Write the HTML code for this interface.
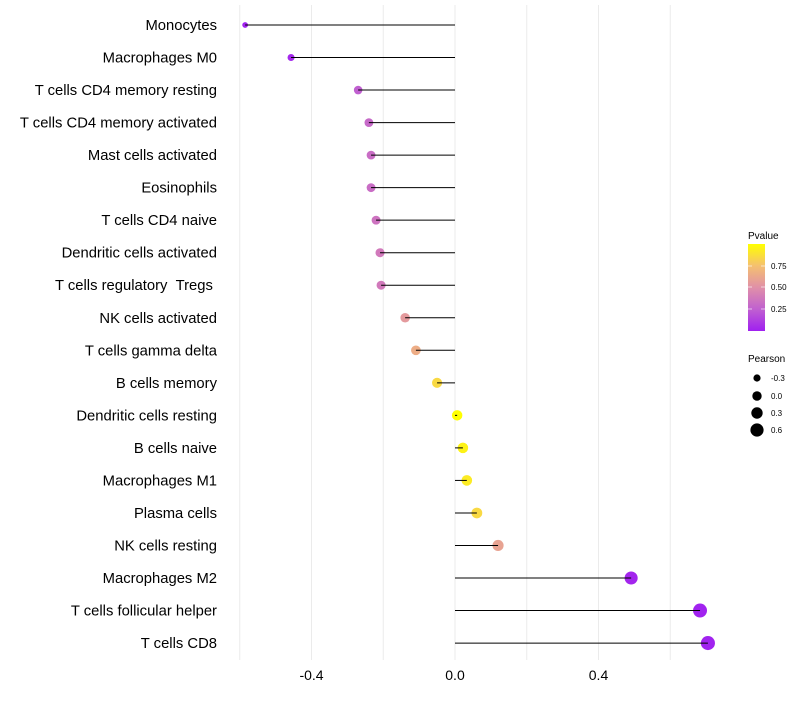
<!DOCTYPE html>
<html><head><meta charset="utf-8"><style>
body{margin:0;background:#fff;font-family:"Liberation Sans",sans-serif}
</style></head><body>
<svg id="chart" width="800" height="700" xmlns="http://www.w3.org/2000/svg" font-family="Liberation Sans, sans-serif">
<g id="grid"></g>
<g id="dots"></g>
<g id="segs"></g>
<g id="ylab"></g>
<g id="xlab"></g>
<defs><linearGradient id="pg" x1="0" y1="1" x2="0" y2="0">
<stop offset="0" stop-color="#a020f0"/><stop offset="0.25" stop-color="#c060d0"/><stop offset="0.5" stop-color="#e090a8"/><stop offset="0.75" stop-color="#f5c070"/><stop offset="1" stop-color="#ffff00"/></linearGradient></defs>
<g>
<text x="748" y="239" font-size="10">Pvalue</text>
<rect x="748" y="244" width="17" height="87" fill="url(#pg)"/>
<line x1="748" y1="266" x2="752" y2="266" stroke="#fff" stroke-opacity=".6"/><line x1="761" y1="266" x2="765" y2="266" stroke="#fff" stroke-opacity=".6"/>
<line x1="748" y1="287" x2="752" y2="287" stroke="#fff" stroke-opacity=".6"/><line x1="761" y1="287" x2="765" y2="287" stroke="#fff" stroke-opacity=".6"/>
<line x1="748" y1="309" x2="752" y2="309" stroke="#fff" stroke-opacity=".6"/><line x1="761" y1="309" x2="765" y2="309" stroke="#fff" stroke-opacity=".6"/>
<text x="771" y="269" font-size="8">0.75</text><text x="771" y="290" font-size="8">0.50</text><text x="771" y="312" font-size="8">0.25</text>
</g>
<g>
<text x="748" y="362" font-size="10">Pearson</text>
<circle cx="757" cy="378" r="3.6"/><text x="771" y="381" font-size="8">-0.3</text>
<circle cx="757" cy="396" r="4.7"/><text x="771" y="399" font-size="8">0.0</text>
<circle cx="757" cy="413" r="5.7"/><text x="771" y="416" font-size="8">0.3</text>
<circle cx="757" cy="430" r="6.6"/><text x="771" y="433" font-size="8">0.6</text>
</g>
</svg>
<script>
const categories=["Monocytes","Macrophages M0","T cells CD4 memory resting","T cells CD4 memory activated","Mast cells activated","Eosinophils","T cells CD4 naive","Dendritic cells activated","T cells regulatory\u00a0\u00a0Tregs\u00a0","NK cells activated","T cells gamma delta","B cells memory","Dendritic cells resting","B cells naive","Macrophages M1","Plasma cells","NK cells resting","Macrophages M2","T cells follicular helper","T cells CD8"];
const pearson=[-0.585,-0.457,-0.270,-0.240,-0.234,-0.234,-0.220,-0.209,-0.206,-0.139,-0.109,-0.050,0.006,0.022,0.033,0.061,0.120,0.491,0.683,0.705];
const pvalues=[0.01,0.03,0.25,0.3,0.32,0.32,0.35,0.38,0.38,0.55,0.65,0.85,1.0,0.95,0.92,0.85,0.6,0.02,0.01,0.01];
const xTicks=[-0.4,0.0,0.4];
const xGrid=[-0.6,-0.4,-0.2,0,0.2,0.4,0.6];
const NS="http://www.w3.org/2000/svg";
const x=v=>455+v*358.75;
const y=i=>25+i*32.53;
const r=v=>Math.sqrt(Math.max(4,27+32*v));
function col(p){const st=[[0,[160,32,240]],[0.25,[192,96,208]],[0.5,[224,144,168]],[0.75,[245,192,112]],[1,[255,255,0]]];
for(let k=1;k<st.length;k++){if(p<=st[k][0]){const a=st[k-1],b=st[k],t=(p-a[0])/(b[0]-a[0]);return "rgb("+a[1].map((c,j)=>Math.round(c+(b[1][j]-c)*t)).join(",")+")";}}return "rgb(255,255,0)";}
function mk(t,at,par){const e=document.createElementNS(NS,t);for(const k in at)e.setAttribute(k,at[k]);document.getElementById(par).appendChild(e);return e;}
xGrid.forEach(g=>{const l=mk("line",{x1:x(g),x2:x(g),y1:5,y2:660,stroke:"#ebebeb","stroke-width":1},"grid");

});
categories.forEach((c,i)=>{
const d=mk("circle",{cx:x(pearson[i]),cy:y(i),r:r(pearson[i]),fill:col(pvalues[i])},"dots");


const s=mk("line",{x1:x(0),x2:x(pearson[i]),y1:y(i),y2:y(i),stroke:"#000","stroke-width":1},"segs");


const t=mk("text",{x:217,y:y(i)+5,"text-anchor":"end","font-size":14.8,fill:"#000"},"ylab");
t.textContent=c;

});
xTicks.forEach(v=>{const t=mk("text",{x:x(v),y:680,"text-anchor":"middle","font-size":14,fill:"#000"},"xlab");
t.textContent=v.toFixed(1);

});
</script>
</body></html>
